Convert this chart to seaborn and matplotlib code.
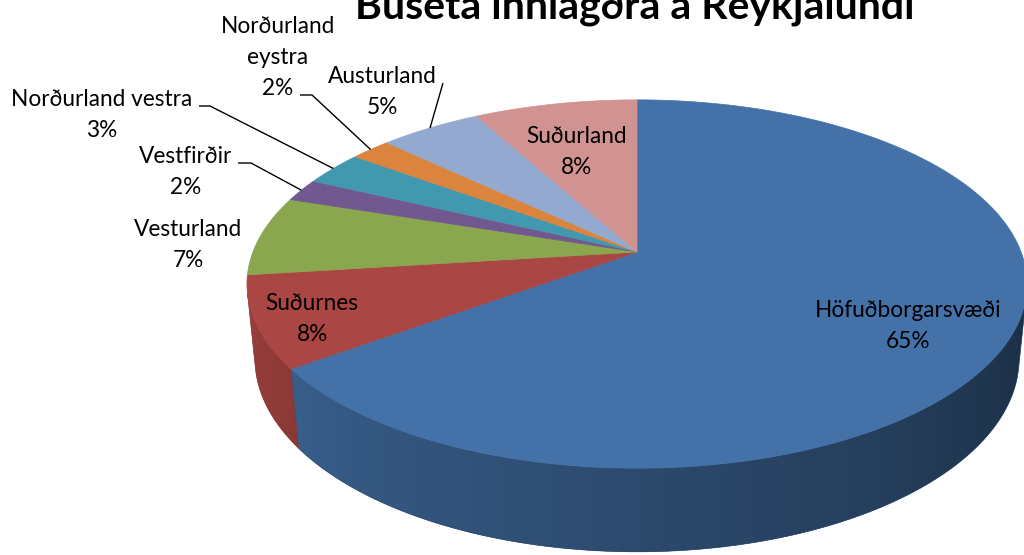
import numpy as np
import matplotlib
matplotlib.use("Agg")
import matplotlib.pyplot as plt
from matplotlib.colors import to_rgb
import seaborn as sns

# ---------------- data ----------------
title = "Búseta innlagðra á Reykjalundi"
regions = ["Höfuðborgarsvæði", "Suðurnes", "Vesturland", "Vestfirðir",
           "Norðurland vestra", "Norðurland eystra", "Austurland", "Suðurland"]
shares = [65, 8, 7, 2, 3, 2, 5, 8]
slice_colors = ["#4472A8", "#AA4643", "#8AA64F", "#71588F",
                "#4198AF", "#DB843D", "#93A9CF", "#D19392"]
# label text as wrapped in the chart
label_lines = [["Höfuðborgarsvæði"], ["Suðurnes"], ["Vesturland"], ["Vestfirðir"],
               ["Norðurland vestra"], ["Norðurland", "eystra"], ["Austurland"], ["Suðurland"]]

# ---------------- layout (pixels) ----------------
label_x = [908, 312, 188, 186, 102, 278, 382, 577]
label_y = [317, 310, 236, 163, 106, 33, 83, 143]      # baseline of first line
line_gap = 31
# leader lines: text-side points (None = no leader)
leaders = [None, None, None,
           [(238, 163), (251, 163)],
           [(199, 106), (210, 106)],
           [(300, 95), (312, 95)],
           [(443, 83)],
           None]

sns.set_theme(style="white")
plt.rcParams["font.family"] = ["Lato", "DejaVu Sans"]

W, H = 1024, 555
fig = plt.figure(figsize=(W / 100, H / 100), dpi=100)
ax = fig.add_axes([0, 0, 1, 1])
ax.set_xlim(0, W)
ax.set_ylim(H, 0)
ax.axis("off")

# ---------------- 3D pie projection ----------------
CX, CY = 637.0, 252.0
FOC = 1955.0
DIST = 5.09
ELEV = np.arcsin(0.465)
THICK = 0.221
se, ce = np.sin(ELEV), np.cos(ELEV)


def project(phi, z=0.0):
    X = np.cos(phi)
    Y = np.sin(phi)
    up = Y * se + z * ce
    depth = DIST + Y * ce - z * se
    return CX + FOC * X / depth, CY - FOC * up / depth


vals = np.array(shares, dtype=float)
total = vals.sum()
cum = np.concatenate([[0], np.cumsum(vals)]) / total
phi_start = np.pi / 2 - 2 * np.pi * cum[:-1]
phi_end = np.pi / 2 - 2 * np.pi * cum[1:]

lim = np.arcsin(1.0 / (DIST * ce))
vis_lo, vis_hi = -np.pi + lim, -lim

pal = sns.color_palette(slice_colors)

# shading along the visible side: map x -> angle -> brightness
ph_s = np.linspace(vis_lo, vis_hi, 600)
x_s, _ = project(ph_s)
shade_s = 0.40 + 0.50 * np.clip((-np.degrees(ph_s) - 13) / 154.0, 0, 1)

# side walls (gradient images clipped to each slice's wall)
for i in range(len(vals)):
    a = max(phi_end[i], vis_lo)
    b = min(phi_start[i], vis_hi)
    if a >= b:
        continue
    ph = np.linspace(b, a, 200)
    xt, yt = project(ph)
    xb, yb = project(ph[::-1], -THICK)
    poly = np.column_stack([np.concatenate([xt, xb]), np.concatenate([yt, yb])])
    base = np.array(to_rgb(pal[i]))
    x0, x1 = poly[:, 0].min() - 2, poly[:, 0].max() + 2
    y0, y1 = poly[:, 1].min() - 2, poly[:, 1].max() + 2
    xs = np.linspace(x0, x1, 400)
    sh = np.interp(xs, x_s, shade_s)
    img = np.tile((base[None, :] * sh[:, None])[None, :, :], (2, 1, 1))
    patch = plt.Polygon(poly, closed=True, facecolor=tuple(base * sh.mean()),
                        edgecolor="none", linewidth=0)
    ax.add_patch(patch)
    im = ax.imshow(img, extent=(x0, x1, y1, y0), aspect="auto",
                   interpolation="bilinear", zorder=1.5)
    im.set_clip_path(patch)
    # soft edge for anti-aliasing
    edge = plt.Polygon(poly, closed=True, facecolor="none",
                       edgecolor=tuple(base * sh.mean()), linewidth=0.4, zorder=1.6)
    ax.add_patch(edge)

# top faces
for i in range(len(vals)):
    n = max(8, int((phi_start[i] - phi_end[i]) / 0.004))
    ph = np.linspace(phi_start[i], phi_end[i], n)
    xs, ys = project(ph)
    pts = [(CX, CY)] + list(zip(xs, ys))
    ax.add_patch(plt.Polygon(pts, closed=True, facecolor=pal[i],
                             edgecolor=pal[i], linewidth=0.5, zorder=2))

ax.set_xlim(0, W)
ax.set_ylim(H, 0)

# ---------------- text ----------------
renderer = fig.canvas.get_renderer()


def fit_size(text, target_px, **kw):
    t = ax.text(0, 0, text, fontsize=20, **kw)
    w = t.get_window_extent(renderer).width
    t.remove()
    return 20 * target_px / w


lab_fs = fit_size("Höfuðborgarsvæði", 187)
tit_fs = fit_size(title, 559, fontweight="bold")

ax.text(635, 18, title, fontsize=tit_fs, fontweight="bold", ha="center",
        va="baseline", color="black", zorder=5)

for i in range(len(vals)):
    lines = label_lines[i] + [f"{round(100 * vals[i] / total):.0f}%"]
    for k, s in enumerate(lines):
        ax.text(label_x[i], label_y[i] + k * line_gap, s, fontsize=lab_fs,
                ha="center", va="baseline", color="black", zorder=5)
    if leaders[i] is not None:
        mid = 0.5 * (phi_start[i] + phi_end[i])
        axp, ayp = project(mid)
        pts = leaders[i] + [(float(axp), float(ayp))]
        ax.plot([p[0] for p in pts], [p[1] for p in pts], color="black",
                lw=1.0, solid_capstyle="butt", zorder=4)

fig.savefig("out.png", dpi=100)
